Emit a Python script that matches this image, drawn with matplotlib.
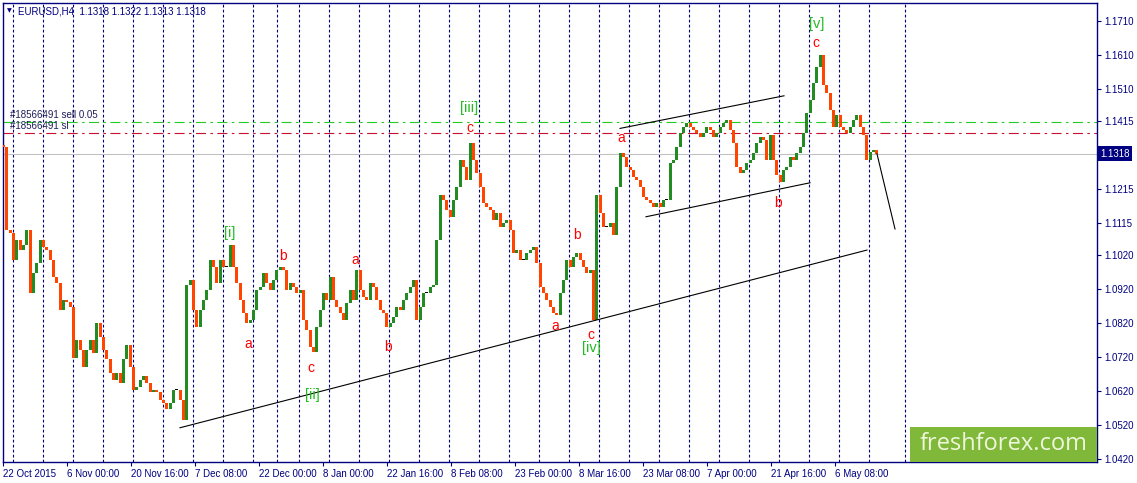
import numpy as np
import matplotlib
matplotlib.use("Agg")
import matplotlib.pyplot as plt
import matplotlib.transforms as mtransforms
from matplotlib.patches import Rectangle

plt.rcParams['font.family'] = ['Liberation Sans', 'DejaVu Sans']
plt.rcParams['lines.scale_dashes'] = False

# EURUSD H4, closes (one value every ~3.3 H4 bars)
first_open = 1.1345
closes = [
    1.1339, 1.1095, 1.1086, 1.1007, 1.1065, 1.1036, 1.1051, 1.1095, 1.0910, 1.0968,
    1.0998, 1.1065, 1.1045, 1.1036, 1.1007, 1.0957, 1.0939, 1.0860, 1.0889, 1.0883,
    1.0868, 1.0718, 1.0771, 1.0742, 1.0692, 1.0742, 1.0771, 1.0733, 1.0821, 1.0780,
    1.0742, 1.0713, 1.0674, 1.0654, 1.0674, 1.0645, 1.0713, 1.0757, 1.0692, 1.0624,
    1.0633, 1.0654, 1.0663, 1.0645, 1.0616, 1.0624, 1.0616, 1.0595, 1.0586, 1.0566,
    1.0586, 1.0624, 1.0624, 1.0595, 1.0536, 1.0933, 1.0948, 1.0860, 1.0810, 1.0860,
    1.0889, 1.0918, 1.1007, 1.0986, 1.0939, 1.1007, 1.0986, 1.0986, 1.1051, 1.0986,
    1.0939, 1.0889, 1.0851, 1.0821, 1.0830, 1.0860, 1.0918, 1.0927, 1.0968, 1.0939,
    1.0918, 1.0948, 1.0977, 1.0986, 1.0977, 1.0918, 1.0939, 1.0927, 1.0910, 1.0918,
    1.0830, 1.0801, 1.0751, 1.0736, 1.0810, 1.0860, 1.0910, 1.0889, 1.0957, 1.0889,
    1.0868, 1.0851, 1.0830, 1.0880, 1.0918, 1.0889, 1.0977, 1.0918, 1.0898, 1.0889,
    1.0939, 1.0927, 1.0889, 1.0860, 1.0851, 1.0810, 1.0821, 1.0839, 1.0868, 1.0860,
    1.0889, 1.0910, 1.0927, 1.0948, 1.0830, 1.0868, 1.0910, 1.0910, 1.0927, 1.0933,
    1.1065, 1.1198, 1.1183, 1.1154, 1.1133, 1.1183, 1.1221, 1.1301, 1.1280, 1.1242,
    1.1351, 1.1301, 1.1262, 1.1221, 1.1174, 1.1162, 1.1154, 1.1124, 1.1145, 1.1104,
    1.1115, 1.1124, 1.1095, 1.1027, 1.1036, 1.1007, 1.1007, 1.1027, 1.1036, 1.1045,
    1.0998, 1.0927, 1.0910, 1.0889, 1.0868, 1.0851, 1.0845, 1.0910, 1.0948, 1.1007,
    1.0986, 1.1015, 1.1027, 1.1007, 1.0986, 1.0968, 1.0977, 1.0830, 1.1198, 1.1145,
    1.1104, 1.1104, 1.1115, 1.1080, 1.1221, 1.1321, 1.1309, 1.1280, 1.1271, 1.1251,
    1.1242, 1.1221, 1.1192, 1.1183, 1.1174, 1.1162, 1.1174, 1.1162, 1.1183, 1.1183,
    1.1292, 1.1301, 1.1339, 1.1380, 1.1398, 1.1409, 1.1398, 1.1389, 1.1380, 1.1368,
    1.1380, 1.1398, 1.1389, 1.1368, 1.1380, 1.1398, 1.1409, 1.1418, 1.1389, 1.1351,
    1.1280, 1.1262, 1.1271, 1.1292, 1.1301, 1.1321, 1.1351, 1.1368, 1.1359, 1.1301,
    1.1374, 1.1301, 1.1256, 1.1236, 1.1271, 1.1280, 1.1309, 1.1301, 1.1321, 1.1339,
    1.1380, 1.1439, 1.1477, 1.1527, 1.1574, 1.1609, 1.1521, 1.1498, 1.1448, 1.1398,
    1.1433, 1.1398, 1.1389, 1.1380, 1.1398, 1.1418, 1.1433, 1.1398, 1.1374, 1.1301,
    1.1324, 1.1330, 1.1318,
]
bars_per_close = 10 / 3

# time axis (bar index) labels and weekly separators
date_bars = [0, 64, 128, 192, 256, 320, 384, 448, 512, 576, 640, 704, 768, 832]
date_labels = ["22 Oct 2015", "6 Nov 00:00", "20 Nov 16:00", "7 Dec 08:00",
               "22 Dec 00:00", "8 Jan 00:00", "22 Jan 16:00", "8 Feb 08:00",
               "23 Feb 00:00", "8 Mar 16:00", "23 Mar 08:00", "7 Apr 00:00",
               "21 Apr 16:00", "6 May 08:00"]
week_bars = [10, 40, 70, 100, 130, 160, 190, 220, 250, 274, 296, 326, 356, 386,
             416, 446, 476, 506, 536, 566, 596, 626, 656, 686, 716, 746, 776,
             806, 836, 866, 902]

price_ticks = [1.1710, 1.1610, 1.1510, 1.1415, 1.1215, 1.1115, 1.1020,
               1.0920, 1.0820, 1.0720, 1.0620, 1.0520, 1.0420]
last_price = 1.1318
bar_info = "EURUSD,H4  1.1318 1.1322 1.1313 1.1318"
sell_level = 1.1411
sl_level = 1.1379
order_id = "#18566491"

# trend lines: (bar, price) -> (bar, price)
trend_lines = [
    ((177, 1.0512), (864, 1.1035)),
    ((617, 1.1393), (781, 1.1489)),
    ((643, 1.1133), (807, 1.1233)),
    ((874, 1.1318), (892, 1.1097)),
]

# wave marks: (text, bar, price)
wave_red = [("a", 245, 1.0759), ("b", 280, 1.1017), ("c", 308, 1.0688),
            ("a", 352, 1.1006), ("b", 385, 1.0750), ("c", 467, 1.1395),
            ("a", 552, 1.0812), ("b", 574, 1.1079), ("c", 588, 1.0785),
            ("a", 618, 1.1366), ("b", 775, 1.1173), ("c", 813, 1.1643)]
wave_green = [("[i]", 227, 1.1085), ("[ii]", 309, 1.0608), ("[iii]", 466, 1.1453),
              ("[iv]", 588, 1.0748), ("[v]", 814, 1.1700)]

navy = "#000080"
W, H = 1137, 483
fig = plt.figure(figsize=(W / 100, H / 100), dpi=100)
ax = fig.add_axes([3 / W, (H - 462) / H, 1094 / W, 459.5 / H])
ax.set_xlim(0, 1094)
ax.set_ylim(1.04112, 1.17636)

# candles
closes = np.array(closes)
opens = np.concatenate([[first_open], closes[:-1]])
xs = 0.5 + np.arange(len(closes)) * bars_per_close
lo = np.minimum(opens, closes)
hi = np.maximum(opens, closes)
hi = np.where(hi - lo < 0.0003, lo + 0.0003, hi)
cols = np.where(closes > opens, "#228b22", np.where(closes < opens, "#ff4500", "black"))
ax.bar(xs, hi - lo, bottom=lo, width=2.7, color=cols, linewidth=0, zorder=3)

# weekly separators
for b in week_bars:
    ax.axvline(b, color="#00007a", lw=0.8, dashes=(2.0, 1.6), zorder=1)

# price lines
ax.axhline(last_price, color="#c0c0c0", lw=0.75, zorder=1)
ax.axhline(sell_level, color="#22cc22", lw=0.8, dashes=(7.2, 3.2, 1.8, 3.2), zorder=2)
ax.axhline(sl_level, color="#c81030", lw=0.8, dashes=(7.2, 3.2, 1.8, 3.2), zorder=2)
ax.text(7, sell_level + 0.0006, f"{order_id} sell 0.05", fontsize=7, color="#1e1e5a",
        va="bottom", ha="left", zorder=6)
ax.text(7, sl_level + 0.0006, f"{order_id} sl", fontsize=7, color="#1e1e5a",
        va="bottom", ha="left", zorder=6)

for (x0, y0), (x1, y1) in trend_lines:
    ax.plot([x0, x1], [y0, y1], color="black", lw=0.8, zorder=4)

for txt, b, p in wave_red:
    ax.text(b, p, txt, color="#ff0000", fontsize=10, ha="center", va="center", zorder=6)
for txt, b, p in wave_green:
    ax.text(b, p, txt, color="#22bb22", fontsize=10.5, ha="center", va="center", zorder=6)

# axes frame and scales
for side in ["left", "top", "bottom", "right"]:
    ax.spines[side].set_color(navy)
    ax.spines[side].set_linewidth(1.0)
ax.yaxis.tick_right()
ax.set_yticks(price_ticks)
ax.set_yticklabels([f"{p:.4f}" for p in price_ticks])
ax.tick_params(axis="y", length=3, width=0.8, color=navy, labelcolor=navy,
               labelsize=7, pad=2)
ax.set_xticks(date_bars)
ax.set_xticklabels(date_labels)
shift = mtransforms.ScaledTranslation(-1 / 100, 0, fig.dpi_scale_trans)
for lab in ax.get_xticklabels():
    lab.set_ha("left")
    lab.set_transform(lab.get_transform() + shift)
ax.tick_params(axis="x", length=3, width=0.8, color=navy, labelcolor=navy,
               labelsize=7, pad=2)

# current price marker on the scale
tr = mtransforms.blended_transform_factory(ax.transAxes, ax.transData)
tr = mtransforms.offset_copy(tr, fig=fig, x=3, y=0, units="dots")
ax.text(1.0, last_price, f"{last_price:.4f}", transform=tr, fontsize=7, color="white",
        ha="left", va="center", zorder=7, clip_on=False,
        bbox=dict(boxstyle="square,pad=0.25", fc=navy, ec="none"))

# watermark
ax.add_patch(Rectangle((0.829, 0), 0.171, 0.0768, transform=ax.transAxes,
                       fc="#80b83a", ec="none", zorder=8))
ax.text(0.9145, 0.0384, "freshforex.com", transform=ax.transAxes, fontsize=17,
        family="Open Sans", color="#eef7dc", ha="center", va="center", zorder=9)

# chart header
fig.text(18 / W, 1 - 11 / H, bar_info, fontsize=7, color=navy, ha="left", va="center")
fig.text(9.5 / W, 1 - 11 / H, "\u25BC", fontsize=4.5, color=navy, ha="center",
         va="center", family="DejaVu Sans")

fig.savefig("out.png", dpi=100)
